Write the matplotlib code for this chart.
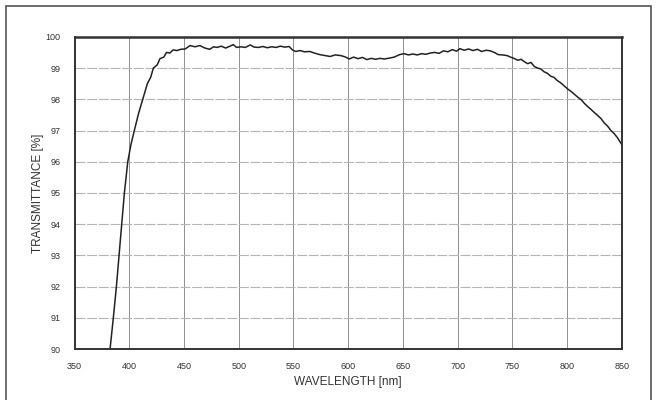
import matplotlib
matplotlib.use('Agg')
import matplotlib.pyplot as plt
from matplotlib.patches import Rectangle

# wavelength [nm] / transmittance [%]
wavelength = [382.4, 385.4, 388.2, 390.6, 393.1, 395.5, 398.6, 401.5, 404.6, 408.5,
              412.3, 416.5, 419.5, 422.0, 425.5, 428.0, 431.5, 434.0, 437.0, 440.0,
              443.5, 447.0, 451.0, 455.5, 460.0, 464.5, 469.0, 473.5, 477.0, 480.0,
              484.0, 488.0, 492.0, 495.0, 498.0, 502.0, 506.0, 510.5, 514.0, 518.0,
              522.0, 526.0, 530.0, 534.0, 538.0, 542.0, 546.0, 549.0, 552.0, 556.0,
              560.0, 565.0, 569.0, 574.0, 579.0, 583.5, 588.0, 593.0, 597.0, 601.0,
              605.0, 609.0, 613.0, 617.0, 621.0, 625.0, 629.0, 633.0, 638.0, 642.0,
              647.0, 651.0, 655.0, 659.0, 663.0, 667.0, 671.0, 675.0, 679.0, 683.0,
              687.0, 691.0, 695.0, 699.0, 702.0, 706.0, 710.0, 714.0, 718.0, 722.0,
              726.0, 730.0, 734.0, 737.0, 741.0, 745.0, 749.0, 752.0, 755.0, 758.0,
              761.0, 764.0, 767.0, 770.0, 773.0, 776.0, 779.0, 782.0, 785.0, 788.0,
              791.0, 794.0, 797.0, 800.5, 804.0, 807.0, 810.0, 813.0, 816.0, 819.0,
              822.0, 825.0, 828.0, 831.0, 834.0, 837.0, 840.0, 843.0, 846.0, 849.4]
transmittance = [90.0, 91.0, 92.0, 93.0, 94.0, 95.0, 96.0, 96.55, 97.0, 97.55,
                 98.0, 98.5, 98.7, 99.0, 99.1, 99.3, 99.35, 99.5, 99.48, 99.58,
                 99.56, 99.6, 99.61, 99.72, 99.68, 99.72, 99.64, 99.6, 99.68, 99.66,
                 99.7, 99.64, 99.7, 99.75, 99.66, 99.68, 99.66, 99.74, 99.67, 99.66,
                 99.69, 99.65, 99.68, 99.66, 99.7, 99.67, 99.69, 99.58, 99.53, 99.56,
                 99.52, 99.53, 99.48, 99.43, 99.4, 99.37, 99.42, 99.4, 99.36, 99.29,
                 99.35, 99.3, 99.34, 99.27, 99.31, 99.28, 99.31, 99.29, 99.32, 99.35,
                 99.43, 99.46, 99.42, 99.45, 99.42, 99.46, 99.44, 99.48, 99.5, 99.47,
                 99.55, 99.52, 99.59, 99.54, 99.62, 99.57, 99.61, 99.56, 99.6, 99.53,
                 99.57, 99.55, 99.49, 99.43, 99.42, 99.4, 99.34, 99.3, 99.25, 99.28,
                 99.2, 99.14, 99.18, 99.05, 99.0, 98.97, 98.88, 98.83, 98.74, 98.7,
                 98.6, 98.53, 98.44, 98.33, 98.24, 98.15, 98.06, 97.98, 97.86, 97.76,
                 97.67, 97.57, 97.48, 97.38, 97.24, 97.14, 97.0, 96.9, 96.77, 96.58]

xticks = [350, 400, 450, 500, 550, 600, 650, 700, 750, 800, 850]
yticks = [90, 91, 92, 93, 94, 95, 96, 97, 98, 99, 100]

plt.rcParams['font.family'] = ['Liberation Sans Narrow', 'Liberation Sans', 'DejaVu Sans']

fig = plt.figure(figsize=(6.57, 4.0), dpi=100)
# grey scan frame round the picture
fig.patches.append(Rectangle((6 / 657, -0.05), 645 / 657, 1.05 - 6 / 400,
                             transform=fig.transFigure, fill=False,
                             edgecolor='#555555', linewidth=1.2))

ax = fig.add_axes([0.1135, 0.127, 0.833, 0.781])
ax.plot(wavelength, transmittance, color='#222222', linewidth=1.1)

ax.set_xlim(350, 850)
ax.set_ylim(90, 100)
ax.set_xticks(xticks)
ax.set_yticks(yticks)
ax.tick_params(length=0, labelsize=6.5, colors='#333333')
ax.tick_params(axis='y', pad=10)
ax.tick_params(axis='x', pad=9)

ax.grid(axis='x', color='#8f8f8f', linewidth=0.7)
ax.grid(axis='y', color='#b4b4b4', linewidth=0.8, linestyle=(0, (9, 1.5)))
for s in ax.spines.values():
    s.set_color('#333333')
    s.set_linewidth(1.4)
ax.spines['top'].set_linewidth(1.8)

ax.set_xlabel('WAVELENGTH [nm]', fontsize=8.5, color='#333333', labelpad=4)
ax.set_ylabel('TRANSMITTANCE [%]', fontsize=8.5, color='#333333', labelpad=1)

plt.savefig('out.png', dpi=100)
